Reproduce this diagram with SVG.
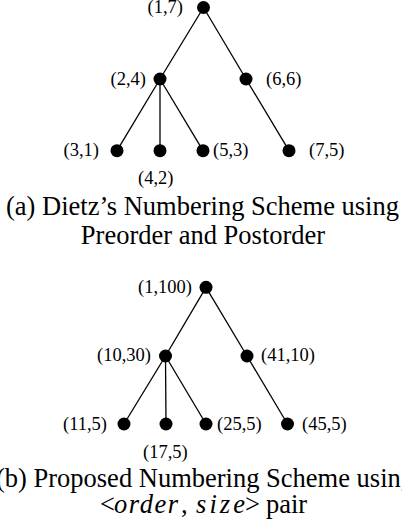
<svg xmlns="http://www.w3.org/2000/svg" width="402" height="525" viewBox="0 0 402 525">
<style>
.e{stroke:#000;stroke-width:1.3;fill:none}
.n{fill:#000}
.l{font-family:"Liberation Serif","Times New Roman",serif;font-size:18.5px;fill:#000}
.c{font-family:"Liberation Serif","Times New Roman",serif;font-size:26.5px;fill:#000}
.m{font-style:italic}
</style>
<rect width="402" height="525" fill="#fff"/>
<g id="edges">
<line class="e" x1="203.5" y1="7.5" x2="160" y2="79"/>
<line class="e" x1="203.5" y1="7.5" x2="246" y2="79"/>
<line class="e" x1="160" y1="79" x2="117" y2="150.7"/>
<line class="e" x1="160" y1="79" x2="160" y2="150.7"/>
<line class="e" x1="160" y1="79" x2="203" y2="150.7"/>
<line class="e" x1="246" y1="79" x2="289" y2="150.7"/>
<line class="e" x1="206" y1="287.3" x2="165.5" y2="356"/>
<line class="e" x1="206" y1="287.3" x2="247" y2="356"/>
<line class="e" x1="165.5" y1="356" x2="124" y2="424"/>
<line class="e" x1="165.5" y1="356" x2="166" y2="424"/>
<line class="e" x1="165.5" y1="356" x2="206" y2="424"/>
<line class="e" x1="247" y1="356" x2="287.5" y2="424"/>
</g>
<g id="a-root"><circle class="n" cx="203.5" cy="7.5" r="6.5"/><text class="l" x="183" y="12.5" text-anchor="end">(1,7)</text></g>
<g id="a-n24"><circle class="n" cx="160" cy="79" r="6.5"/><text class="l" x="146" y="84.5" text-anchor="end">(2,4)</text></g>
<g id="a-n66"><circle class="n" cx="246" cy="79" r="6.5"/><text class="l" x="266" y="84.5">(6,6)</text></g>
<g id="a-n31"><circle class="n" cx="117" cy="150.7" r="6.5"/><text class="l" x="99" y="156" text-anchor="end">(3,1)</text></g>
<g id="a-n42"><circle class="n" cx="160" cy="150.7" r="6.5"/><text class="l" x="138" y="184">(4,2)</text></g>
<g id="a-n53"><circle class="n" cx="203" cy="150.7" r="6.5"/><text class="l" x="213" y="156">(5,3)</text></g>
<g id="a-n75"><circle class="n" cx="289" cy="150.7" r="6.5"/><text class="l" x="309" y="156">(7,5)</text></g>
<g id="caption-a"><text class="c" x="202.5" y="215" text-anchor="middle">(a) Dietz’s Numbering Scheme using</text><text class="c" x="203" y="244" text-anchor="middle">Preorder and Postorder</text></g>
<g id="b-root"><circle class="n" cx="206" cy="287.3" r="6.5"/><text class="l" x="192" y="292.5" text-anchor="end">(1,100)</text></g>
<g id="b-n1030"><circle class="n" cx="165.5" cy="356" r="6.5"/><text class="l" x="151" y="361" text-anchor="end">(10,30)</text></g>
<g id="b-n4110"><circle class="n" cx="247" cy="356" r="6.5"/><text class="l" x="261" y="361">(41,10)</text></g>
<g id="b-n115"><circle class="n" cx="124" cy="424" r="6.5"/><text class="l" x="107" y="429.5" text-anchor="end">(11,5)</text></g>
<g id="b-n175"><circle class="n" cx="166" cy="424" r="6.5"/><text class="l" x="143" y="457.5">(17,5)</text></g>
<g id="b-n255"><circle class="n" cx="206" cy="424" r="6.5"/><text class="l" x="217" y="429.5">(25,5)</text></g>
<g id="b-n455"><circle class="n" cx="287.5" cy="424" r="6.5"/><text class="l" x="302" y="429.5">(45,5)</text></g>
<g id="caption-b"><text class="c" x="205" y="487" text-anchor="middle">(b) Proposed Numbering Scheme using</text><text class="c" y="513"><tspan x="100">&lt;</tspan><tspan class="m" x="114" textLength="64" lengthAdjust="spacing">order</tspan><tspan x="181">,</tspan><tspan class="m" x="196" textLength="49" lengthAdjust="spacing">size</tspan><tspan x="245">&gt;</tspan><tspan x="266">pair</tspan></text></g>
</svg>
